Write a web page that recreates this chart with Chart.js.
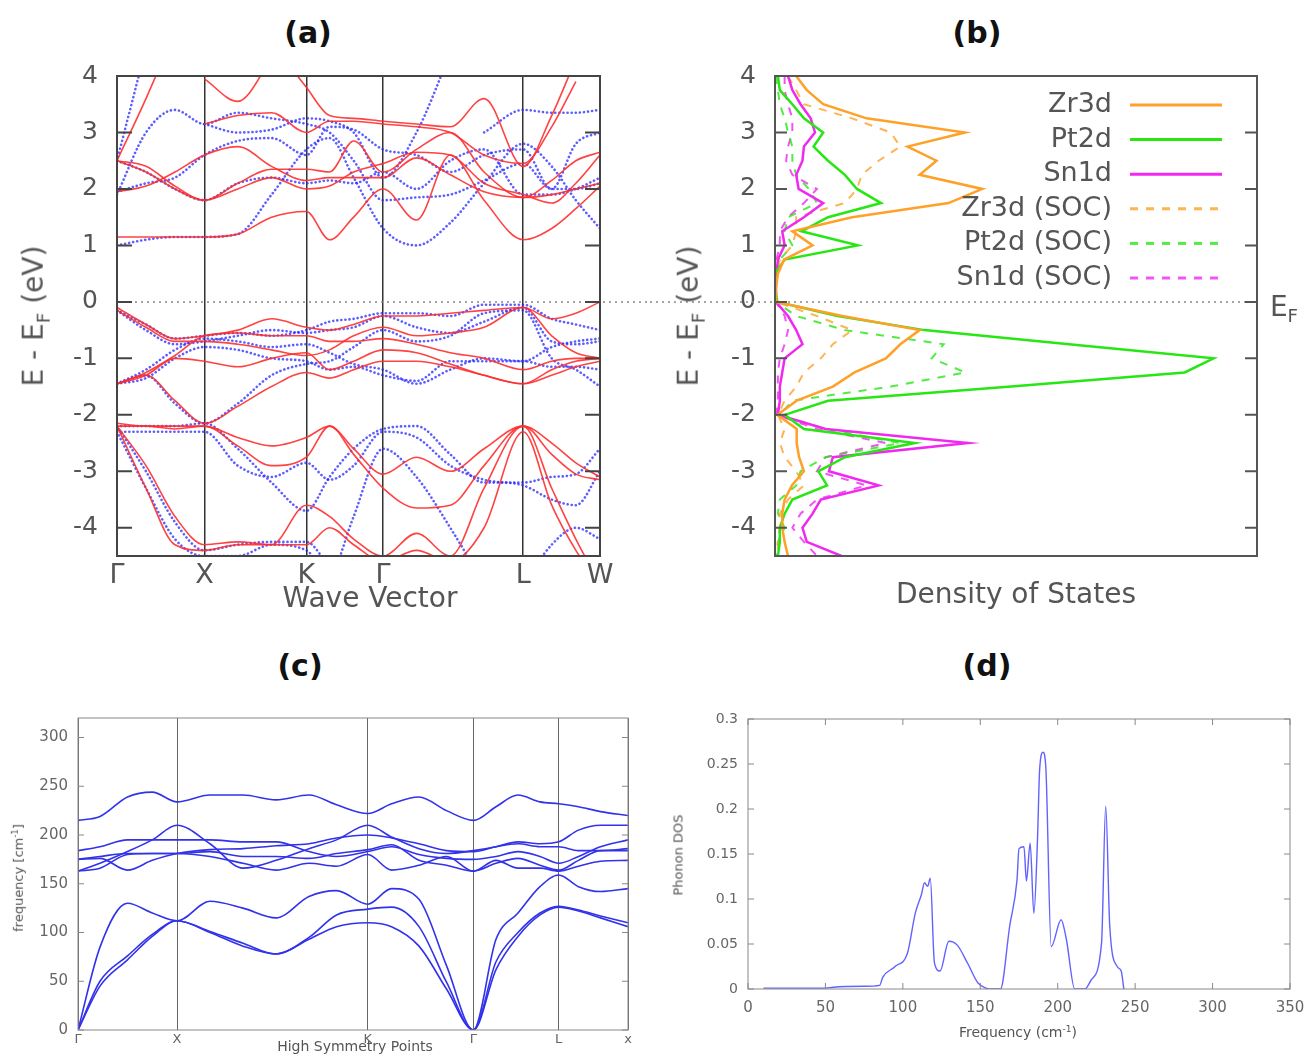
<!DOCTYPE html>
<html>
<head>
<meta charset="utf-8">
<script src="https://cdn.jsdelivr.net/npm/chart.js@4.4.0/dist/chart.umd.min.js"></script>
<style>
  body { margin: 0; background: #fff; }
  #page { position: relative; width: 1306px; height: 1055px; overflow: hidden; }
  canvas { position: absolute; }
  .t { position: absolute; font-family: 'DejaVu Sans', sans-serif; color: #555; white-space: nowrap; transform: translate(-50%, -50%); }
  .rot { transform: translate(-50%, -50%) rotate(-90deg); }
  .ttl { font-weight: bold; font-size: 30px; color: #111; }
  sub, sup { font-size: 0.65em; }
</style>
</head>
<body>
<div id="page">
  <div class="t ttl" style="left:308px;top:32px">(a)</div>
  <div class="t ttl" style="left:977px;top:32px">(b)</div>
  <div class="t ttl" style="left:300px;top:665px">(c)</div>
  <div class="t ttl" style="left:987px;top:665px">(d)</div>

  <canvas id="ca" width="650" height="560" style="left:0;top:60px"></canvas>
  <canvas id="cb" width="656" height="560" style="left:650px;top:60px"></canvas>
  <canvas id="cc" width="640" height="355" style="left:0;top:700px"></canvas>
  <canvas id="cd" width="646" height="355" style="left:660px;top:700px"></canvas>

  <div class="t rot" style="left:35px;top:316px;font-size:28px">E - E<sub>F</sub> (eV)</div>
  <div class="t" style="left:370px;top:597px;font-size:28px">Wave Vector</div>
  <div class="t rot" style="left:690px;top:316px;font-size:28px">E - E<sub>F</sub> (eV)</div>
  <div class="t" style="left:1016px;top:593px;font-size:28px">Density of States</div>
  <div class="t" style="left:1284px;top:308px;font-size:28px">E<sub>F</sub></div>
  <div class="t rot" style="left:18px;top:878px;font-size:13px">frequency [cm<sup>-1</sup>]</div>
  <div class="t" style="left:355px;top:1046px;font-size:14px">High Symmetry Points</div>
  <div class="t rot" style="left:678px;top:855px;font-size:13px">Phonon DOS</div>
  <div class="t" style="left:1018px;top:1032px;font-size:14px">Frequency (cm<sup>-1</sup>)</div>
</div>
<script>
// ---- (a) band structure ----
const kA = [0, 6, 12, 18.1, 25, 32, 39.2, 44, 49, 55.1, 62, 69, 76, 84.1, 90, 95, 100];
const kTicksA = [0, 18.1, 39.2, 55.1, 84.1, 100];
const kLabelsA = ['Γ', 'X', 'K', 'Γ', 'L', 'W'];

const redBands = [
  [-0.1, -0.4, -0.65, -0.6, -0.5, -0.3, -0.45, -0.5, -0.4, -0.25, -0.25, -0.2, -0.15, -0.1, -0.3, -0.2, 0.0],
  [-0.15, -0.45, -0.7, -0.7, -0.75, -0.85, -0.95, -0.85, -0.6, -0.45, -0.6, -0.55, -0.45, -0.1, -0.6, -0.9, -1.0],
  [-1.45, -1.25, -0.95, -0.6, -0.55, -0.6, -0.6, -0.7, -0.7, -0.65, -0.75, -0.9, -1.0, -1.2, -1.05, -1.0, -1.0],
  [-1.45, -1.3, -1.0, -1.05, -1.15, -1.0, -0.9, -1.2, -1.05, -0.85, -0.9, -1.1, -1.3, -1.45, -1.2, -1.05, -1.0],
  [-1.45, -1.3, -1.75, -2.15, -1.85, -1.5, -1.25, -1.35, -1.2, -1.05, -1.05, -1.15, -1.3, -1.45, -1.3, -1.15, -1.05],
  [-2.15, -2.2, -2.2, -2.2, -2.4, -2.55, -2.4, -2.2, -2.6, -3.05, -2.75, -3.0, -2.6, -2.2, -2.5, -2.85, -3.1],
  [-2.2, -2.2, -2.25, -2.2, -2.55, -2.9, -2.75, -2.2, -2.7, -3.3, -3.65, -3.6, -2.9, -2.2, -2.7, -3.05, -3.15],
  [-2.2, -2.9, -3.8, -4.3, -4.25, -4.3, -3.6, -3.8, -4.2, -4.5, -4.1, -4.5, -3.3, -2.2, -3.3, -4.2, -5.0],
  [-2.2, -3.3, -4.3, -4.4, -4.3, -4.3, -4.3, -4.0, -4.3, -4.6, -4.4, -4.6, -4.0, -2.3, -3.6, -4.4, -5.0],
  [1.15, 1.15, 1.15, 1.15, 1.2, 1.5, 1.6, 1.1, 1.5, 2.0, 1.45, 2.6, 1.8, 1.1, 1.3, 1.65, 2.05],
  [1.95, 2.05, 2.3, 2.6, 2.75, 2.4, 2.15, 2.2, 2.2, 2.2, 2.55, 2.25, 1.95, 1.85, 1.9, 2.0, 2.1],
  [2.5, 2.3, 2.0, 1.8, 2.0, 2.2, 2.0, 2.05, 2.3, 2.45, 2.65, 2.6, 2.1, 1.9, 1.75, 2.1, 2.6],
  [2.5, 2.4, 2.05, 1.8, 2.1, 2.35, 2.35, 2.3, 2.85, 2.3, 2.7, 3.0, 2.3, 1.85, 2.15, 2.5, 2.65],
  [2.5, 3.6, 4.8, null, null, null, null, null, null, null, null, null, null, null, null, null, null],
  [null, null, null, 3.95, 3.55, 4.3, null, null, null, null, null, null, null, null, null, null, null],
  [null, null, null, 3.15, 3.3, 3.35, 3.0, 3.2, 3.2, 3.15, 3.1, 3.0, 2.6, 2.45, 3.1, 3.9, null],
  [null, null, null, null, null, 4.6, 3.8, 3.3, 3.25, 3.2, 3.15, 3.1, 3.6, 2.4, 3.3, 4.3, null]
];

const blueBands = [
  [-0.15, -0.4, -0.65, -0.6, -0.55, -0.6, -0.5, -0.35, -0.3, -0.2, -0.2, -0.25, -0.05, -0.05, -0.3, -0.4, -0.5],
  [-0.15, -0.5, -0.75, -0.7, -0.6, -0.5, -0.55, -0.5, -0.45, -0.25, -0.45, -0.55, -0.35, -0.1, -0.7, -0.75, -0.7],
  [-1.45, -1.2, -0.85, -0.65, -0.7, -0.8, -0.75, -0.9, -1.1, -1.2, -1.45, -1.2, -1.0, -1.05, -0.8, -0.7, -0.65],
  [-1.45, -1.35, -1.0, -0.8, -0.85, -1.0, -1.05, -1.2, -1.15, -1.3, -1.4, -1.05, -1.05, -1.05, -1.15, -1.15, -1.2],
  [-1.45, -1.3, -1.8, -2.15, -1.8, -1.3, -1.1, -1.05, -0.8, -0.5, -0.7, -0.6, -0.2, -0.15, -1.0, -1.2, -1.5],
  [-2.2, -2.2, -2.2, -2.15, -2.6, -3.2, -3.7, -3.1, -2.6, -2.25, -2.2, -2.7, -3.2, -3.2, -3.1, -3.05, -2.6],
  [-2.3, -2.3, -2.3, -2.3, -2.9, -3.1, -2.85, -3.15, -2.9, -2.3, -2.4, -2.9, -3.15, -3.25, -3.5, -3.6, -3.0],
  [-2.2, -3.0, -3.9, -4.4, -4.3, -4.25, -4.25, -4.7, null, null, null, null, null, null, null, null, null],
  [-2.3, -3.3, -4.2, -4.5, -4.5, -4.3, -4.4, -5.0, null, null, null, null, null, null, null, null, null],
  [null, null, null, null, null, null, -5.5, -5.0, -3.8, -2.6, -3.1, -4.0, -5.0, null, null, null, null],
  [null, null, null, null, null, null, null, null, null, null, null, null, null, -5.0, -4.3, -4.0, -4.2],
  [1.0, 1.1, 1.15, 1.15, 1.2, 1.9, 2.7, 2.9, 2.2, 1.3, 1.0, 1.4, 2.1, 2.8, 2.4, 1.8, 1.3],
  [1.9, 3.0, 3.4, 3.15, 3.35, 3.25, 3.15, 3.0, 2.5, 1.8, 1.85, 1.9, 2.15, 2.45, 2.0, 2.0, 2.1],
  [1.95, 2.1, 2.2, 2.6, 2.85, 2.9, 2.6, 3.1, 3.05, 2.7, 2.6, 2.3, 2.6, 2.7, 2.0, 2.8, 3.0],
  [2.5, 2.3, 2.0, 1.8, 2.1, 2.2, 2.1, 2.15, 2.1, 2.3, 2.0, 2.5, 2.7, 1.9, 1.9, 2.0, 2.2],
  [2.5, 4.5, null, null, null, null, null, null, null, null, null, null, null, null, null, null, null],
  [null, null, null, 3.15, 3.0, 3.05, 3.25, 3.2, 3.0, 2.2, 3.0, 4.4, null, null, null, null, null],
  [null, null, null, null, null, null, null, null, null, null, null, null, 3.0, 3.4, 3.35, 3.35, 3.4]
];

// ---- (b) projected DOS ----
const energyB = [4, 3.75, 3.5, 3.25, 3, 2.75, 2.5, 2.25, 2, 1.75, 1.5, 1.25, 1, 0.75, 0.5, 0.25, 0,
  -0.25, -0.5, -0.75, -1, -1.25, -1.5, -1.75, -2, -2.25, -2.5, -2.75, -3, -3.25, -3.5, -3.75, -4, -4.25, -4.5];
const zr3d = [0.44, 0.66, 1.0, 1.9, 3.94, 2.75, 3.35, 3.0, 4.3, 3.6, 1.6, 0.36, 0.78, 0.19, 0.06, 0.02, 0.02,
  1.4, 3.0, 2.6, 2.3, 1.65, 1.2, 0.45, 0.05, 0.45, 0.45, 0.5, 0.6, 0.35, 0.2, 0.15, 0.15, 0.2, 0.27];
const pt2d = [0.06, 0.1, 0.36, 0.6, 1.0, 0.8, 1.1, 1.45, 1.7, 2.2, 1.1, 0.55, 1.72, 0.2, 0.0, 0.0, 0.05,
  1.3, 3.1, 6.1, 9.1, 8.5, 4.9, 1.1, 0.2, 0.6, 2.9, 1.45, 0.9, 1.08, 0.36, 0.2, 0.1, 0.1, 0.06];
const sn1d = [0.27, 0.36, 0.53, 0.74, 0.83, 0.6, 0.57, 0.44, 0.49, 1.0, 0.6, 0.15, 0.2, 0.06, 0.03, 0.02, 0.02,
  0.27, 0.44, 0.57, 0.2, 0.15, 0.1, 0.1, 0.06, 1.05, 4.0, 1.2, 1.12, 2.15, 0.95, 0.78, 0.57, 0.66, 1.38];
const zr3dSoc = [0.27, 0.44, 0.6, 1.6, 2.4, 2.6, 2.15, 1.8, 1.7, 1.45, 0.44, 0.44, 0.36, 0.1, 0.03, 0.02, 0.02,
  0.87, 1.6, 1.2, 0.95, 0.6, 0.44, 0.2, 0.06, 0.2, 0.1, 0.2, 0.44, 0.6, 0.27, 0.1, 0.1, 0.06, 0.06];
const pt2dSoc = [0.02, 0.06, 0.1, 0.2, 0.27, 0.36, 0.36, 0.44, 0.7, 0.87, 0.27, 0.2, 0.36, 0.1, 0.02, 0.02, 0.02,
  0.44, 1.45, 3.5, 3.25, 3.95, 2.4, 0.36, 0.1, 1.05, 2.6, 1.05, 0.53, 0.44, 0.1, 0.06, 0.2, 0.06, 0.03];
const sn1dSoc = [0.2, 0.2, 0.27, 0.36, 0.36, 0.27, 0.23, 0.36, 0.87, 0.6, 0.27, 0.1, 0.1, 0.03, 0.02, 0.02, 0.02,
  0.2, 0.27, 0.2, 0.1, 0.06, 0.06, 0.06, 0.03, 0.87, 2.3, 1.05, 0.87, 1.9, 0.87, 0.53, 0.36, 0.6, 0.87];
const dosLabels = ['Zr3d', 'Pt2d', 'Sn1d', 'Zr3d (SOC)', 'Pt2d (SOC)', 'Sn1d (SOC)'];

// ---- (c) phonon dispersion ----
const kC = [0, 4, 9, 13.5, 18, 24, 30, 36, 42, 47, 52.7, 57, 62, 67, 71.9, 76, 80, 84, 87.4, 91, 95, 100];
const kTicksC = [0, 18, 52.7, 71.9, 87.4, 100];
const kLabelsC = ['Γ', 'X', 'K', 'Γ', 'L', 'x'];
const phononBands = [
  [0, 85, 130, 120, 112, 132, 125, 115, 137, 143, 129, 145, 134, 66, 0, 93, 120, 147, 159, 147, 142, 145],
  [0, 50, 76, 98, 112, 101, 89, 78, 95, 118, 124, 126, 106, 49, 0, 70, 100, 120, 127, 123, 117, 110],
  [0, 45, 72, 96, 112, 100, 86, 78, 93, 106, 110, 106, 86, 42, 0, 62, 96, 118, 126, 122, 115, 106],
  [215, 219, 239, 244, 234, 241, 241, 236, 241, 231, 222, 232, 239, 225, 215, 229, 241, 234, 232, 229, 224, 220],
  [163, 171, 183, 195, 210, 191, 166, 174, 186, 195, 210, 198, 186, 181, 184, 188, 193, 191, 193, 205, 210, 210],
  [175, 176, 164, 174, 181, 185, 186, 189, 191, 197, 200, 197, 191, 184, 183, 188, 191, 188, 188, 184, 184, 186],
  [184, 188, 195, 195, 195, 195, 193, 193, 183, 178, 183, 188, 180, 176, 175, 178, 183, 178, 171, 178, 188, 195],
  [175, 178, 181, 181, 181, 183, 178, 178, 176, 181, 185, 190, 174, 169, 163, 171, 176, 169, 164, 174, 184, 184],
  [163, 166, 180, 181, 181, 178, 171, 164, 171, 168, 180, 164, 169, 178, 163, 174, 166, 166, 163, 168, 173, 174]
];

// ---- (d) phonon DOS ----
const freqD = [10, 50, 55, 75, 85, 87, 95, 103, 108, 112, 114, 116, 117.7, 120.4, 124, 129.7, 135, 141.7, 148.4, 153.7,
  158, 163, 169, 173.7, 175, 178.2, 179.8, 182.2, 184.6, 187, 188.3, 190.5, 192.3, 195.8, 202.2, 205.6, 211, 217.6, 221.6, 228.3,
  231, 233.6, 238.4, 241, 242.7];
const dosD = [0.001, 0.001, 0.002, 0.003, 0.004, 0.013, 0.025, 0.04, 0.084, 0.105, 0.118, 0.114, 0.123, 0.029, 0.02, 0.053, 0.049, 0.029, 0.007, 0.001,
  0, 0, 0.07, 0.121, 0.156, 0.158, 0.12, 0.162, 0.084, 0.169, 0.243, 0.263, 0.247, 0.047, 0.077, 0.055, 0, 0, 0.01, 0.051,
  0.203, 0.07, 0.025, 0.02, 0];

const FONT = 'DejaVu Sans';

// box around the plot, inward tick marks, optional dotted E_F line
const framePlugin = {
  id: 'frame',
  afterDatasetsDraw(chart, args, o) {
    if (!o || !o.color) return;
    const ctx = chart.ctx, a = chart.chartArea, sx = chart.scales.x, sy = chart.scales.y;
    ctx.save();
    if (o.ef) {
      const y0 = sy.getPixelForValue(0);
      ctx.strokeStyle = '#888';
      ctx.lineWidth = 1.5;
      ctx.setLineDash([2, 4]);
      ctx.beginPath();
      ctx.moveTo(o.ef === 'right' ? a.left : 0, y0);
      ctx.lineTo(o.ef === 'right' ? chart.width : a.right, y0);
      ctx.stroke();
      ctx.setLineDash([]);
    }
    ctx.strokeStyle = o.color;
    ctx.lineWidth = o.width;
    ctx.beginPath();
    sy.ticks.forEach(t => {
      const y = sy.getPixelForValue(t.value);
      ctx.moveTo(a.left, y); ctx.lineTo(a.left + o.tick, y);
      ctx.moveTo(a.right, y); ctx.lineTo(a.right - o.tick, y);
    });
    if (o.xTicks) {
      sx.ticks.forEach(t => {
        const x = sx.getPixelForValue(t.value);
        ctx.moveTo(x, a.bottom); ctx.lineTo(x, a.bottom - o.tick);
        ctx.moveTo(x, a.top); ctx.lineTo(x, a.top + o.tick);
      });
    }
    ctx.stroke();
    ctx.strokeRect(a.left, a.top, a.right - a.left, a.bottom - a.top);
    ctx.restore();
  }
};
Chart.register(framePlugin);

function toPoints(xs, ys) {
  return ys.map((v, i) => ({ x: xs[i], y: v }));
}

// fixed axis size, no extra room for overflowing end labels
function fixSize(key, size) {
  return s => {
    s[key] = size;
    s.paddingTop = 0; s.paddingBottom = 0; s.paddingLeft = 0; s.paddingRight = 0;
  };
}

function baseOptions(pad) {
  return {
    responsive: false,
    animation: false,
    layout: { padding: pad },
    plugins: { legend: { display: false }, tooltip: { enabled: false } },
    elements: { point: { radius: 0 } }
  };
}

// (a)
const optA = baseOptions({ top: 16, right: 50, left: 0, bottom: 0 });
optA.plugins.frame = { color: '#444', width: 2, tick: 15, ef: 'right' };
optA.scales = {
  x: {
    type: 'linear', min: 0, max: 100,
    afterBuildTicks: s => { s.ticks = kTicksA.map(v => ({ value: v })); },
    afterFit: fixSize('height', 64),
    ticks: { callback: (v, i) => kLabelsA[i], autoSkip: false, maxRotation: 0, padding: 4, color: '#555', font: { family: FONT, size: 27 } },
    grid: { color: '#333', lineWidth: 1.5, drawTicks: false },
    border: { display: false }
  },
  y: {
    min: -4.5, max: 4,
    afterFit: fixSize('width', 117),
    ticks: { stepSize: 1, includeBounds: false, padding: 19, color: '#555', font: { family: FONT, size: 25 } },
    grid: { display: false, drawTicks: false },
    border: { display: false }
  }
};
new Chart(document.getElementById('ca'), {
  type: 'line',
  data: {
    datasets: [
      ...redBands.map(b => ({ data: toPoints(kA, b), borderColor: 'rgba(255,45,45,0.9)', borderWidth: 1.6, cubicInterpolationMode: 'monotone' })),
      ...blueBands.map(b => ({ data: toPoints(kA, b), borderColor: 'rgba(40,40,255,0.75)', borderWidth: 2.6, borderDash: [0.1, 4], borderCapStyle: 'round', cubicInterpolationMode: 'monotone' }))
    ]
  },
  options: optA
});

// (b)
const dosLegend = {
  id: 'dosLegend',
  afterDatasetsDraw(chart) {
    const ctx = chart.ctx;
    ctx.save();
    ctx.font = '27px "DejaVu Sans"';
    ctx.textAlign = 'right';
    ctx.textBaseline = 'middle';
    chart.data.datasets.forEach((d, i) => {
      const y = 45 + i * 34.6;
      ctx.fillStyle = '#555';
      ctx.fillText(d.label, 462, y);
      ctx.strokeStyle = d.borderColor;
      ctx.lineWidth = 3;
      ctx.setLineDash(d.borderDash || []);
      ctx.beginPath();
      ctx.moveTo(480, y);
      ctx.lineTo(572, y);
      ctx.stroke();
    });
    ctx.restore();
  }
};
const dosSeries = [zr3d, pt2d, sn1d, zr3dSoc, pt2dSoc, sn1dSoc];
const dosColors = ['rgb(255,160,40)', 'rgb(40,230,20)', 'rgb(240,40,240)', 'rgba(255,160,40,0.8)', 'rgba(40,230,20,0.8)', 'rgba(240,40,240,0.8)'];
const optB = baseOptions({ top: 16, right: 49, left: 0, bottom: 0 });
optB.plugins.frame = { color: '#555', width: 2, tick: 12, ef: 'left' };
optB.scales = {
  x: {
    type: 'linear', min: 0, max: 10,
    afterFit: fixSize('height', 64),
    ticks: { display: false },
    grid: { display: false, drawTicks: false },
    border: { display: false }
  },
  y: {
    type: 'linear', min: -4.5, max: 4,
    afterFit: fixSize('width', 125),
    ticks: { stepSize: 1, includeBounds: false, padding: 19, color: '#555', font: { family: FONT, size: 25 } },
    grid: { display: false, drawTicks: false },
    border: { display: false }
  }
};
new Chart(document.getElementById('cb'), {
  type: 'line',
  data: {
    datasets: dosSeries.map((s, i) => ({
      label: dosLabels[i],
      data: s.map((v, j) => ({ x: v, y: energyB[j] })),
      borderColor: dosColors[i],
      borderWidth: i < 3 ? 2.5 : 2,
      borderDash: i < 3 ? [] : [8, 8],
      tension: 0
    }))
  },
  options: optB,
  plugins: [dosLegend]
});

// (c)
const optC = baseOptions({ top: 18, right: 12, left: 0, bottom: 0 });
optC.plugins.frame = { color: '#888', width: 1, tick: 6 };
optC.scales = {
  x: {
    type: 'linear', min: 0, max: 100,
    afterBuildTicks: s => { s.ticks = kTicksC.map(v => ({ value: v })); },
    afterFit: fixSize('height', 25),
    ticks: { callback: (v, i) => kLabelsC[i], autoSkip: false, maxRotation: 0, padding: 2, color: '#666', font: { family: FONT, size: 13 } },
    grid: { color: '#666', lineWidth: 1, drawTicks: false },
    border: { display: false }
  },
  y: {
    min: 0, max: 320,
    afterFit: fixSize('width', 78),
    ticks: { stepSize: 50, includeBounds: false, padding: 10, color: '#666', font: { family: FONT, size: 15 } },
    grid: { display: false, drawTicks: false },
    border: { display: false }
  }
};
new Chart(document.getElementById('cc'), {
  type: 'line',
  data: {
    datasets: phononBands.map(b => ({ data: toPoints(kC, b), borderColor: 'rgb(50,50,235)', borderWidth: 1.6, cubicInterpolationMode: 'monotone' }))
  },
  options: optC
});

// (d)
const optD = baseOptions({ top: 19, right: 16, left: 0, bottom: 0 });
optD.plugins.frame = { color: '#888', width: 1, tick: 6, xTicks: true };
optD.scales = {
  x: {
    type: 'linear', min: 0, max: 350,
    afterFit: fixSize('height', 66),
    ticks: { stepSize: 50, padding: 10, maxRotation: 0, color: '#666', font: { family: FONT, size: 15 } },
    grid: { display: false, drawTicks: false },
    border: { display: false }
  },
  y: {
    min: 0, max: 0.3,
    afterFit: fixSize('width', 88),
    ticks: { stepSize: 0.05, padding: 10, color: '#666', font: { family: FONT, size: 14 },
      callback: v => String(Math.round(v * 100) / 100) },
    grid: { display: false, drawTicks: false },
    border: { display: false }
  }
};
new Chart(document.getElementById('cd'), {
  type: 'line',
  data: {
    datasets: [{ data: toPoints(freqD, dosD), borderColor: 'rgba(70,70,255,0.85)', borderWidth: 1.4, cubicInterpolationMode: 'monotone' }]
  },
  options: optD
});
</script>
</body>
</html>
